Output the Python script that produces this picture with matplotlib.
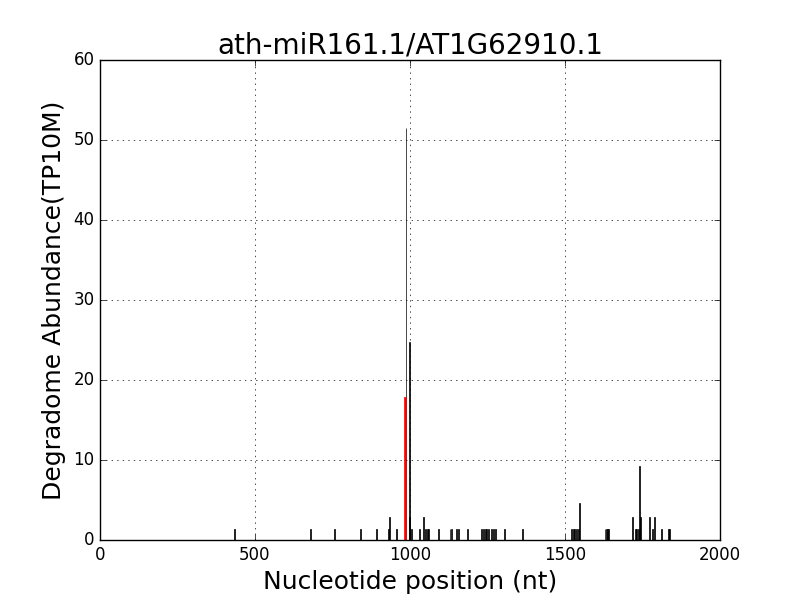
import matplotlib
matplotlib.use("Agg")
import matplotlib.pyplot as plt

plt.style.use('classic')

title = "ath-miR161.1/AT1G62910.1"
positions = [433, 680, 757, 840, 891, 931, 935, 955, 987, 997, 999, 1004, 1030,
             1043, 1051, 1055, 1060, 1091, 1129, 1134, 1150, 1156, 1185,
             1231, 1237, 1243, 1247, 1253, 1263, 1268, 1276, 1306, 1362,
             1521, 1527, 1532, 1538, 1543, 1548, 1629, 1633, 1637, 1640,
             1717, 1726, 1731, 1736, 1739, 1742, 1745, 1774, 1782, 1788, 1812, 1833, 1836]
abundance = [1.43, 1.43, 1.43, 1.43, 1.43, 1.43, 2.86, 1.43, 51.5, 2.86, 24.8, 1.43, 1.43,
             2.86, 1.43, 1.43, 1.43, 1.43, 1.43, 1.43, 1.43, 1.43, 1.43,
             1.43, 1.43, 1.43, 1.43, 1.43, 1.43, 1.43, 1.43, 1.43, 1.43,
             1.43, 1.43, 1.43, 1.43, 1.43, 4.6, 1.43, 1.43, 1.43, 1.43,
             2.86, 1.43, 1.43, 1.43, 9.3, 1.43, 2.86, 2.86, 1.43, 2.86, 1.43, 1.43, 1.43]
target_pos = [984]
target_val = [17.9]

fig = plt.figure(figsize=(8, 6), dpi=100)
ax = fig.add_subplot(111)
ax.bar(positions, abundance, width=3, color='black', edgecolor='black', linewidth=0.5, align='center')
ax.bar(target_pos, target_val, width=5, color='red', edgecolor='red', linewidth=0.5, align='center')
ax.set_xlim(0, 2000)
ax.set_ylim(0, 60)
ax.set_xticks([0, 500, 1000, 1500, 2000])
ax.set_yticks([0, 10, 20, 30, 40, 50, 60])
ax.grid(True)
ax.set_title(title, fontsize=20)
ax.set_xlabel("Nucleotide position (nt)", fontsize=18)
ax.set_ylabel("Degradome Abundance(TP10M)", fontsize=18)
fig.savefig("out.png", dpi=100)
